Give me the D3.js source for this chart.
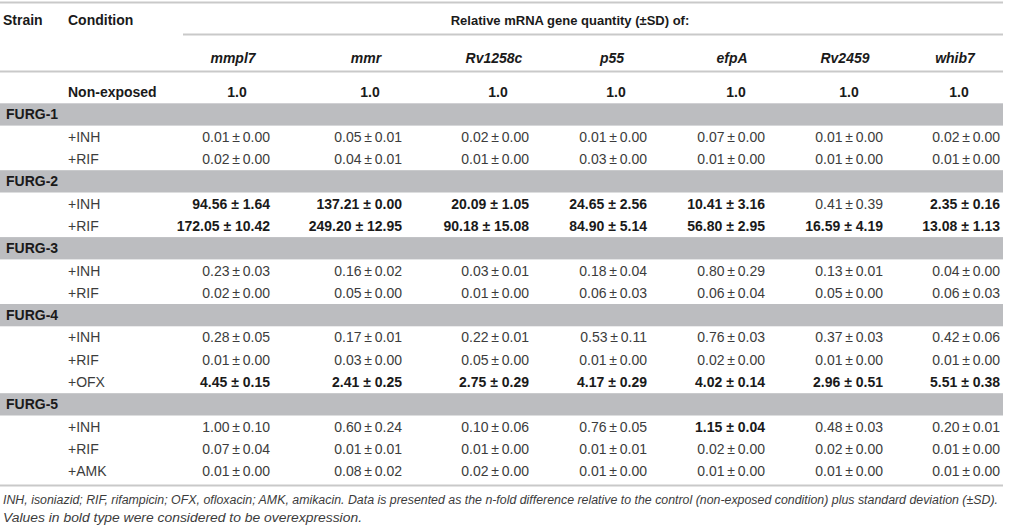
<!DOCTYPE html>
<html>
<head>
<meta charset="utf-8">
<script src="https://cdn.jsdelivr.net/npm/d3@7"></script>
<style>
  body { margin: 0; background: #fff; }
  svg { display: block; font-family: "Liberation Sans", Arial, sans-serif; }
</style>
</head>
<body>
<div id="table"></div>
<script>
const GENES = ['mmpl7', 'mmr', 'Rv1258c', 'p55', 'efpA', 'Rv2459', 'whib7']
const BASELINE = [1.0, 1.0, 1.0, 1.0, 1.0, 1.0, 1.0]
const STRAINS = ['FURG-1', 'FURG-2', 'FURG-3', 'FURG-4', 'FURG-5']
const CONDITIONS = [
  ['+INH', '+RIF'],
  ['+INH', '+RIF'],
  ['+INH', '+RIF'],
  ['+INH', '+RIF', '+OFX'],
  ['+INH', '+RIF', '+AMK'],
]
// one row per strain/condition, one value per gene
const MEANS = [
  [0.01, 0.05, 0.02, 0.01, 0.07, 0.01, 0.02],
  [0.02, 0.04, 0.01, 0.03, 0.01, 0.01, 0.01],
  [94.56, 137.21, 20.09, 24.65, 10.41, 0.41, 2.35],
  [172.05, 249.20, 90.18, 84.90, 56.80, 16.59, 13.08],
  [0.23, 0.16, 0.03, 0.18, 0.80, 0.13, 0.04],
  [0.02, 0.05, 0.01, 0.06, 0.06, 0.05, 0.06],
  [0.28, 0.17, 0.22, 0.53, 0.76, 0.37, 0.42],
  [0.01, 0.03, 0.05, 0.01, 0.02, 0.01, 0.01],
  [4.45, 2.41, 2.75, 4.17, 4.02, 2.96, 5.51],
  [1.00, 0.60, 0.10, 0.76, 1.15, 0.48, 0.20],
  [0.07, 0.01, 0.01, 0.01, 0.02, 0.02, 0.01],
  [0.01, 0.08, 0.02, 0.01, 0.01, 0.01, 0.01],
]
const SDS = [
  [0.00, 0.01, 0.00, 0.00, 0.00, 0.00, 0.00],
  [0.00, 0.01, 0.00, 0.00, 0.00, 0.00, 0.00],
  [1.64, 0.00, 1.05, 2.56, 3.16, 0.39, 0.16],
  [10.42, 12.95, 15.08, 5.14, 2.95, 4.19, 1.13],
  [0.03, 0.02, 0.01, 0.04, 0.29, 0.01, 0.00],
  [0.00, 0.00, 0.00, 0.03, 0.04, 0.00, 0.03],
  [0.05, 0.01, 0.01, 0.11, 0.03, 0.03, 0.06],
  [0.00, 0.00, 0.00, 0.00, 0.00, 0.00, 0.00],
  [0.15, 0.25, 0.29, 0.29, 0.14, 0.51, 0.38],
  [0.10, 0.24, 0.06, 0.05, 0.04, 0.03, 0.01],
  [0.04, 0.01, 0.00, 0.01, 0.00, 0.00, 0.00],
  [0.00, 0.02, 0.00, 0.00, 0.00, 0.00, 0.00],
]
const FOOTNOTE = [
  'INH, isoniazid; RIF, rifampicin; OFX, ofloxacin; AMK, amikacin. Data is presented as the n-fold difference relative to the control (non-exposed condition) plus standard deviation (±SD).',
  'Values in bold type were considered to be overexpression.'
]
const FOOTNOTE_WIDTHS = [995, 359]

const width = 1015, height = 530
const right = 1003
const fmt = d3.format('.2f')
const BAND = '#bcbdc0', RULE = '#c9c9c9', INK = '#1a1a1a', LIGHT = '#3c3c3c'

// flatten into table rows
const rows = [{type: 'base', key: 'base'}]
let k = 0
STRAINS.forEach((s, i) => {
  rows.push({type: 'strain', key: s, label: s})
  CONDITIONS[i].forEach(c => {
    rows.push({type: 'cond', key: s + c, label: c, means: MEANS[k], sds: SDS[k]})
    k++
  })
})

const y = d3.scaleBand()
  .domain(rows.map(r => r.key))
  .range([81, 482.4])

const colRight = d3.scaleOrdinal().domain(GENES)
  .range([270, 402, 529, 647, 765, 883, 1000])
const colMid = d3.scaleOrdinal().domain(GENES)
  .range([233, 366, 494, 612, 732, 845, 955])

const svg = d3.select('#table').append('svg')
  .attr('width', width)
  .attr('height', height)

svg.append('rect').attr('width', width).attr('height', height).attr('fill', '#fff')

// strain bands
svg.append('g').selectAll('rect')
  .data(rows.filter(r => r.type == 'strain'))
  .enter().append('rect')
    .attr('x', 0)
    .attr('y', d => y(d.key))
    .attr('width', right)
    .attr('height', y.bandwidth())
    .attr('fill', BAND)

// rules
const rules = [
  {x1: 0, y: 2.5},
  {x1: 183, y: 34.5},
  {x1: 0, y: 71.5},
  {x1: 0, y: y.range()[1] + 3},
]
svg.append('g').selectAll('line')
  .data(rules)
  .enter().append('line')
    .attr('x1', d => d.x1)
    .attr('x2', right)
    .attr('y1', d => d.y)
    .attr('y2', d => d.y)
    .attr('stroke', RULE)
    .attr('stroke-width', 2)

// header
const head = svg.append('g').attr('font-size', 14).attr('font-weight', 'bold').attr('fill', INK)
head.append('text').attr('x', 3).attr('y', 25).text('Strain')
head.append('text').attr('x', 68).attr('y', 25).text('Condition')
head.append('text').attr('x', 570).attr('y', 25).attr('text-anchor', 'middle')
  .attr('font-size', 13)
  .text('Relative mRNA gene quantity (±SD) of:')
head.selectAll('.gene')
  .data(GENES)
  .enter().append('text')
    .attr('class', 'gene')
    .attr('x', d => colMid(d))
    .attr('y', 63)
    .attr('text-anchor', 'middle')
    .attr('font-style', 'italic')
    .text(d => d)

const mid = key => y(key) + y.bandwidth() / 2 + 5

// non-exposed row
const base = svg.append('g').attr('font-size', 14).attr('font-weight', 'bold').attr('fill', INK)
base.append('text').attr('x', 68).attr('y', mid('base')).text('Non-exposed')
base.selectAll('.b')
  .data(GENES)
  .enter().append('text')
    .attr('class', 'b')
    .attr('x', d => colMid(d) + 4)
    .attr('y', mid('base'))
    .attr('text-anchor', 'middle')
    .text((d, i) => d3.format('.1f')(BASELINE[i]))

// strain labels
svg.append('g').selectAll('text')
  .data(rows.filter(r => r.type == 'strain'))
  .enter().append('text')
    .attr('x', 6)
    .attr('y', d => mid(d.key))
    .attr('font-size', 14)
    .attr('font-weight', 'bold')
    .attr('fill', INK)
    .text(d => d.label)

// condition rows
const condRows = svg.append('g').selectAll('g')
  .data(rows.filter(r => r.type == 'cond'))
  .enter().append('g')
    .attr('font-size', 14)

condRows.append('text')
  .attr('x', 68)
  .attr('y', d => mid(d.key))
  .attr('fill', LIGHT)
  .text(d => d.label)

condRows.selectAll('.v')
  .data(d => GENES.map((g, i) => ({key: d.key, gene: g, mean: d.means[i], sd: d.sds[i]})))
  .enter().append('text')
    .attr('class', 'v')
    .attr('x', d => colRight(d.gene))
    .attr('y', d => mid(d.key))
    .attr('text-anchor', 'end')
    .attr('font-weight', d => d.mean > 1 ? 'bold' : 'normal')
    .attr('fill', d => d.mean > 1 ? INK : LIGHT)
    .text(d => d.mean > 1
      ? fmt(d.mean) + ' ± ' + fmt(d.sd)
      : fmt(d.mean) + '\u2009±\u2009' + fmt(d.sd))

// footnote
svg.append('g').selectAll('text')
  .data(FOOTNOTE)
  .enter().append('text')
    .attr('x', 3)
    .attr('y', (d, i) => 504 + i * 18)
    .attr('font-size', 12.5)
    .attr('font-style', 'italic')
    .attr('fill', LIGHT)
    .attr('textLength', (d, i) => FOOTNOTE_WIDTHS[i])
    .attr('lengthAdjust', 'spacingAndGlyphs')
    .text(d => d)
</script>
</body>
</html>
